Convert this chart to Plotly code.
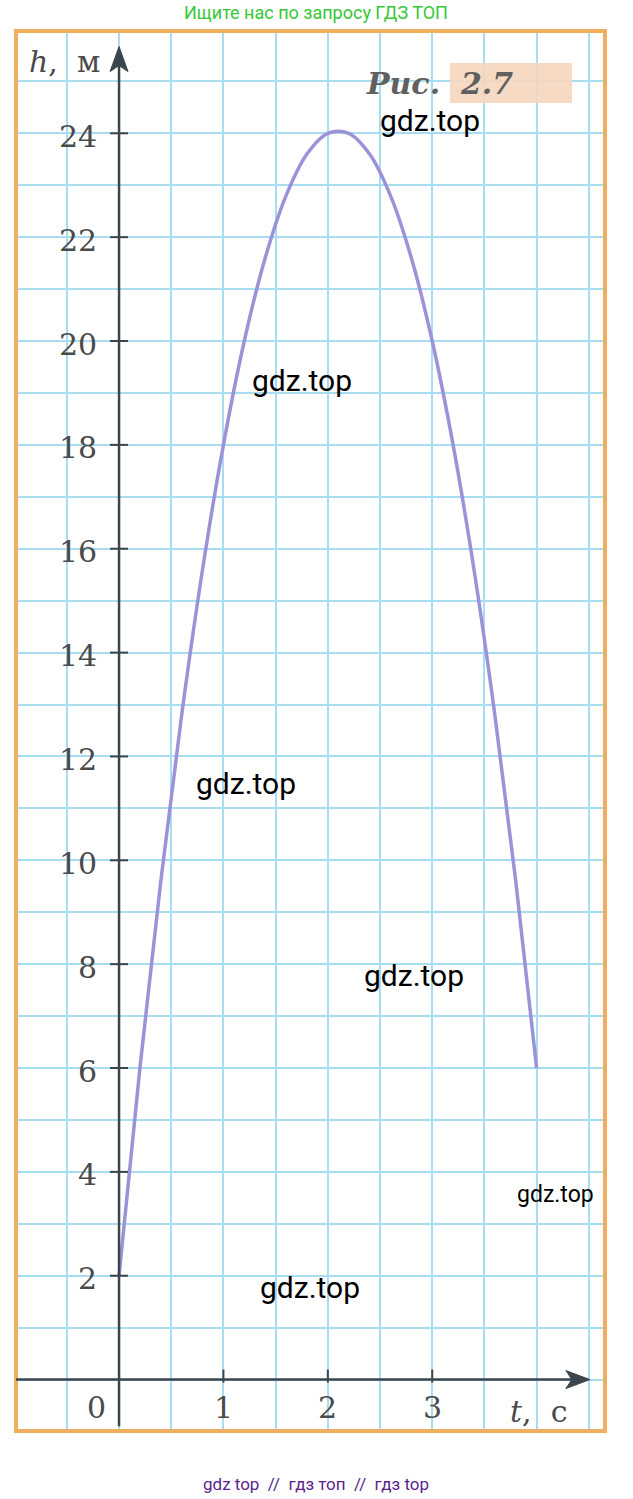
import plotly.graph_objects as go

# ---- data ----
t_values = [0, 0.2, 0.4, 0.6, 0.8, 1.0, 1.2, 1.4, 1.6, 1.8, 2.0, 2.2, 2.4, 2.6, 2.8, 3.0, 3.2, 3.4, 3.6, 3.8, 4.0]
h_values = [2.0, 6.0, 9.6, 12.8, 15.6, 18.0, 20.0, 21.6, 22.8, 23.6, 24.0, 24.0, 23.6, 22.8, 21.6, 20.0, 18.0, 15.6, 12.8, 9.6, 6.0]

x_tick_values = [1, 2, 3]
x_tick_labels = ["1", "2", "3"]
y_tick_values = [2, 4, 6, 8, 10, 12, 14, 16, 18, 20, 22, 24]
y_tick_labels = ["2", "4", "6", "8", "10", "12", "14", "16", "18", "20", "22", "24"]

x_range = [-0.987, 4.655]
y_range = [-0.99, 25.97]

W, H = 633, 1499
ML, MT = 16, 31
MR = W - 605
MB = H - 1431
PW, PH = W - ML - MR, H - MT - MB


def fx(px):
    return (px - ML) / PW


def fy(py):
    return (H - MB - py) / PH


GRID = "rgb(168,220,240)"
AXIS = "#3b464c"
LABEL = "#4a4a4a"
SERIF = "DejaVu Serif"

fig = go.Figure()
fig.add_trace(go.Scatter(
    x=t_values, y=h_values, mode="lines",
    line=dict(color="rgb(155,146,216)", width=3.5, shape="spline", smoothing=1.0),
    hoverinfo="skip", showlegend=False,
))

shapes = []
shapes.append(dict(type="rect", xref="paper", yref="paper", x0=0, x1=1, y0=0, y1=1,
                   line=dict(color="#f0ae5e", width=4), layer="above"))
shapes.append(dict(type="line", xref="x", yref="y", x0=x_range[0], x1=4.35, y0=0, y1=0,
                   line=dict(color=AXIS, width=2.5), layer="above"))
shapes.append(dict(type="line", xref="x", yref="y", x0=0, x1=0, y0=-0.9, y1=25.4,
                   line=dict(color=AXIS, width=2.5), layer="above"))
shapes.append(dict(type="path", xref="x", yref="y", xsizemode="pixel", ysizemode="pixel",
                   xanchor=4.51, yanchor=0, path="M0,0 L-24,-9 L-18,0 L-24,9 Z",
                   fillcolor=AXIS, line=dict(color=AXIS, width=1), layer="above"))
shapes.append(dict(type="path", xref="x", yref="y", xsizemode="pixel", ysizemode="pixel",
                   xanchor=0, yanchor=25.67, path="M0,0 L-9,-25 L0,-19 L9,-25 Z",
                   fillcolor=AXIS, line=dict(color=AXIS, width=1), layer="above"))
for tv in x_tick_values:
    shapes.append(dict(type="line", xref="x", yref="y", ysizemode="pixel", yanchor=0,
                       x0=tv, x1=tv, y0=-3, y1=10, line=dict(color=AXIS, width=2), layer="above"))
for hv in y_tick_values:
    shapes.append(dict(type="line", xref="x", yref="y", xsizemode="pixel", xanchor=0,
                       x0=-9, x1=9, y0=hv, y1=hv, line=dict(color=AXIS, width=2), layer="above"))
shapes.append(dict(type="rect", xref="paper", yref="paper", x0=fx(450), x1=fx(572),
                   y0=fy(103), y1=fy(63), fillcolor="rgba(246,214,188,0.9)",
                   line=dict(width=0), layer="above"))

ann = []
for hv, lab in zip(y_tick_values, y_tick_labels):
    ann.append(dict(x=0, y=hv, xref="x", yref="y", text=lab, showarrow=False,
                    xanchor="right", yanchor="middle", xshift=-20, yshift=-3,
                    font=dict(family=SERIF, size=30, color=LABEL)))
for tv, lab in zip(x_tick_values, x_tick_labels):
    ann.append(dict(x=tv, y=0, xref="x", yref="y", text=lab, showarrow=False,
                    xanchor="center", yanchor="middle", yshift=-28,
                    font=dict(family=SERIF, size=30, color=LABEL)))
ann.append(dict(x=0, y=0, xref="x", yref="y", text="0", showarrow=False,
                xanchor="right", yanchor="middle", xshift=-11, yshift=-28,
                font=dict(family=SERIF, size=30, color=LABEL)))
ann.append(dict(x=fx(538), y=fy(1411), xref="paper", yref="paper", text="<i>t</i>,&nbsp;&nbsp;с",
                showarrow=False, xanchor="center", yanchor="middle",
                font=dict(family=SERIF, size=30, color=LABEL)))
ann.append(dict(x=fx(64), y=fy(62), xref="paper", yref="paper", text="<i>h</i>,&nbsp;&nbsp;м",
                showarrow=False, xanchor="center", yanchor="middle",
                font=dict(family=SERIF, size=30, color=LABEL)))
ann.append(dict(x=fx(439), y=fy(84), xref="paper", yref="paper", text="<b><i>Рис.&nbsp;&nbsp;2.7</i></b>",
                showarrow=False, xanchor="center", yanchor="middle",
                font=dict(family=SERIF, size=30, color="#606060")))
for (px, py, sz) in [(430, 120, 30), (302, 380, 30), (246, 783, 30), (414, 975, 30),
                     (555, 1194, 23), (310, 1287, 30)]:
    ann.append(dict(x=fx(px), y=fy(py), xref="paper", yref="paper", text="gdz.top",
                    showarrow=False, xanchor="center", yanchor="middle",
                    font=dict(family="Roboto", size=sz, color="black")))
ann.append(dict(x=fx(316), y=fy(12), xref="paper", yref="paper", text="Ищите нас по запросу ГДЗ ТОП",
                showarrow=False, xanchor="center", yanchor="middle",
                font=dict(family="Roboto", size=18, color="#35c935")))
ann.append(dict(x=fx(316), y=fy(1484), xref="paper", yref="paper",
                text="gdz top&nbsp;&nbsp;//&nbsp;&nbsp;гдз топ&nbsp;&nbsp;//&nbsp;&nbsp;гдз top",
                showarrow=False, xanchor="center", yanchor="middle",
                font=dict(family="Roboto", size=17, color="#5b1f8f")))

fig.update_layout(
    width=W, height=H,
    margin=dict(l=ML, r=MR, t=MT, b=MB),
    paper_bgcolor="white", plot_bgcolor="white",
    xaxis=dict(range=x_range, tick0=0, dtick=0.5, showgrid=True, gridcolor=GRID, gridwidth=1.5,
               zeroline=False, showticklabels=False, showline=False, ticks="", fixedrange=True),
    yaxis=dict(range=y_range, tick0=0, dtick=1, showgrid=True, gridcolor=GRID, gridwidth=1.5,
               zeroline=False, showticklabels=False, showline=False, ticks="", fixedrange=True),
    shapes=shapes, annotations=ann, showlegend=False,
)

fig.write_html("out.html", config={"displayModeBar": False},
               post_script="document.body.style.margin='0px';")
